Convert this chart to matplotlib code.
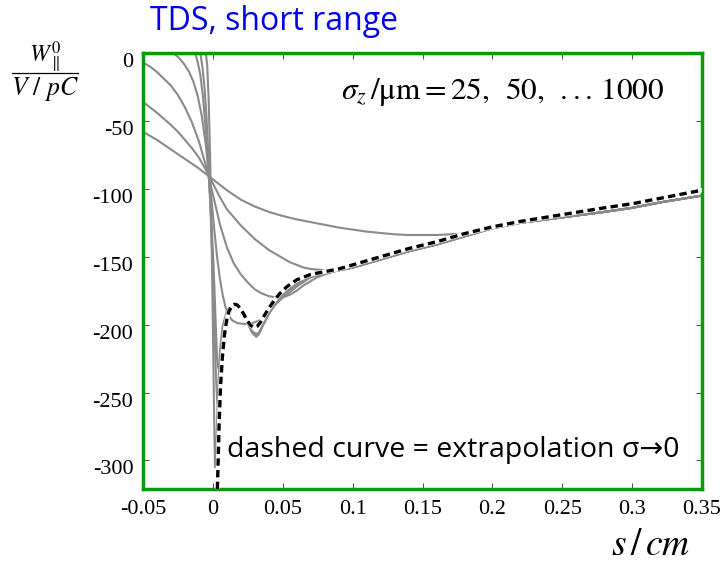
import matplotlib
matplotlib.use('Agg')
import matplotlib.pyplot as plt
import matplotlib.transforms as mtransforms
from matplotlib.lines import Line2D

plt.rcParams['mathtext.fontset'] = 'stix'

# ---- data (s in cm, W in V/pC) ----
# common gray bundle the curves join at larger s
mid_x = [0.07, 0.08, 0.09, 0.10, 0.12, 0.14, 0.16, 0.18]
mid_y = [-165, -162, -160, -158, -152, -146, -141, -135]
tail_x = [0.20, 0.22, 0.25, 0.28, 0.30, 0.32, 0.35]
tail_y = [-129, -125, -121, -117, -114, -110, -105]

# sigma = 1000 um
a_x = [-0.05, -0.04, -0.03, -0.02, -0.01, 0.0, 0.01, 0.02, 0.03, 0.04, 0.05, 0.06, 0.07,
       0.08, 0.09, 0.10, 0.11, 0.12, 0.13, 0.14, 0.15, 0.16, 0.17, 0.18, 0.19]
a_y = [-58, -64, -71, -78, -85, -93, -101, -108, -113, -117, -120, -122.5, -124.5,
       -126.5, -128.5, -130, -131.5, -132.5, -133.5, -134, -134, -134, -133.5, -133, -131]
# sigma = 500 um
b_x = [-0.05, -0.045, -0.04, -0.035, -0.03, -0.025, -0.02, -0.015, -0.01, -0.005, 0.0,
       0.005, 0.01, 0.015, 0.02, 0.025, 0.03, 0.035, 0.04, 0.045, 0.05, 0.055, 0.06,
       0.065, 0.07, 0.08, 0.09, 0.10]
b_y = [-36, -40, -44, -48.5, -53, -58, -64, -70, -77, -86, -96,
       -106, -115, -121, -127, -132, -137, -141, -145, -148, -151, -154, -156,
       -158, -159, -160, -160, -158]
# sigma = 300 um
c_x = [-0.05, -0.045, -0.04, -0.035, -0.03, -0.025, -0.02, -0.015, -0.01, -0.005, 0.0,
       0.005, 0.01, 0.015, 0.02, 0.025, 0.03, 0.035, 0.04, 0.045, 0.05, 0.055, 0.06,
       0.065, 0.07, 0.075, 0.08, 0.09]
c_y = [-7, -10, -14, -19, -24, -31, -40, -51, -65, -83, -104,
       -126, -143, -155, -163, -169, -174, -177, -179, -180, -180, -178, -175,
       -171, -168, -165, -163, -160]
# sigma = 200 um
d_x = [-0.0285, -0.026, -0.023, -0.02, -0.017, -0.014, -0.011, -0.008, -0.005, -0.003,
       -0.001, 0.001, 0.003, 0.005, 0.007, 0.009, 0.011, 0.014, 0.018, 0.023, 0.028,
       0.033, 0.037, 0.041, 0.045, 0.05, 0.055, 0.06]
d_y = [0, -2, -5, -9, -14, -21, -31, -46, -68, -88,
       -108, -130, -150, -166, -178, -187, -193, -197, -199, -199.5, -199,
       -197, -194, -190, -185, -180, -176, -172]
# sigma = 100 um
e_x = [-0.0127, -0.011, -0.009, -0.007, -0.005, -0.003, -0.0015, 0.0, 0.001, 0.002, 0.003,
       0.0038, 0.005, 0.0065, 0.008, 0.01, 0.012, 0.014, 0.016, 0.018, 0.02, 0.022,
       0.025, 0.028, 0.031, 0.033, 0.036, 0.04, 0.045, 0.05, 0.055, 0.06]
e_y = [0, -6, -16, -33, -58, -90, -118, -145, -170, -198, -225,
       -232, -228, -216, -205, -196, -190, -187, -186, -186.5, -189, -193,
       -199, -205, -207, -206, -200, -192, -184, -178, -174, -170]
# sigma = 50 um
f_x = [-0.009, -0.0075, -0.006, -0.0045, -0.003, -0.0015, 0.0, 0.001, 0.002, 0.003, 0.004,
       0.005, 0.006, 0.0075, 0.009, 0.011, 0.013, 0.015, 0.017, 0.019, 0.021, 0.023,
       0.025, 0.028, 0.031, 0.033, 0.036, 0.04, 0.045, 0.05, 0.055, 0.06]
f_y = [0, -10, -25, -48, -80, -120, -165, -200, -232, -255, -262,
       -252, -238, -220, -206, -195, -189, -186, -185.5, -187, -190, -194,
       -199, -205, -207, -206, -200, -192, -184, -178, -174, -170]
# sigma = 25 um
g_x = [-0.005, -0.004, -0.003, -0.002, -0.001, 0.0, 0.0008, 0.0015, 0.0025, 0.0035, 0.005,
       0.007, 0.01, 0.012, 0.014, 0.016, 0.018, 0.02, 0.022, 0.025, 0.028, 0.031,
       0.033, 0.036, 0.04, 0.045, 0.05, 0.055, 0.06]
g_y = [0, -10, -35, -75, -130, -200, -260, -305, -290, -255, -220,
       -201, -190, -187, -185.5, -185, -186, -189, -193, -199, -206, -209,
       -207, -200, -192, -184, -178, -174, -170]

# extrapolation sigma -> 0
dash_x = [0.0032, 0.0038, 0.0045, 0.0055, 0.0068, 0.0082, 0.0098, 0.0115, 0.0135, 0.0155,
          0.0175, 0.0195, 0.022, 0.0245, 0.027, 0.0295, 0.032, 0.0345, 0.037, 0.04, 0.044,
          0.048, 0.053, 0.06, 0.07, 0.08, 0.09, 0.10, 0.12, 0.14, 0.16, 0.18, 0.20,
          0.22, 0.25, 0.28, 0.30, 0.32, 0.35]
dash_y = [-321, -300, -272, -245, -224, -208, -197, -190, -186.5, -185,
          -185.5, -188, -192, -197, -200.5, -202, -201, -197.5, -193, -188, -182,
          -177, -172, -167, -163, -161, -159, -156, -150, -144, -139, -133, -128,
          -124, -119, -114, -111, -107, -101]

x_ticks = [-0.05, 0, 0.05, 0.1, 0.15, 0.2, 0.25, 0.3, 0.35]
x_labels = ['-0.05', '0', '0.05', '0.1', '0.15', '0.2', '0.25', '0.3', '0.35']
y_ticks = [0, -50, -100, -150, -200, -250, -300]
y_labels = ['0', '-50', '-100', '-150', '-200', '-250', '-300']

W, H = 723, 565
fig = plt.figure(figsize=(W / 100, H / 100), dpi=100)
ax = fig.add_axes([143 / W, 1 - 489 / H, (702 - 143) / W, (489 - 53) / H])

gray = '#8a8a8a'
curves = [
    (a_x + tail_x, a_y + tail_y),
    (b_x + mid_x[4:] + tail_x, b_y + mid_y[4:] + tail_y),
    (c_x + mid_x[3:] + tail_x, c_y + mid_y[3:] + tail_y),
    (d_x + mid_x + tail_x, d_y + mid_y + tail_y),
    (e_x + mid_x + tail_x, e_y + mid_y + tail_y),
    (f_x + mid_x + tail_x, f_y + mid_y + tail_y),
    (g_x + mid_x + tail_x, g_y + mid_y + tail_y),
]
for cx, cy in curves:
    ax.plot(cx, cy, color=gray, lw=1.5, solid_joinstyle='round', zorder=2)

ax.plot(dash_x, dash_y, color='white', lw=3.2, zorder=3)
ax.plot(dash_x, dash_y, color='black', lw=2.4, dashes=(2.2, 1.3), zorder=4)

ax.set_xlim(-0.05, 0.35)
ax.set_ylim(-321, 0)
ax.set_xticks(x_ticks)
ax.set_xticklabels(x_labels)
ax.set_yticks(y_ticks)
ax.set_yticklabels(y_labels)

for sp in ax.spines.values():
    sp.set_color('#0a9a0a')
    sp.set_linewidth(2.5)

ax.tick_params(direction='in', top=True, right=True, length=4, width=0.8,
               color='#555555', labelsize=16, pad=7)
ax.tick_params(axis='x', pad=8)
for lab in ax.get_xticklabels() + ax.get_yticklabels():
    lab.set_fontfamily('Liberation Serif')
offset = mtransforms.ScaledTranslation(0, -7 / 100, fig.dpi_scale_trans)
for lab in ax.get_yticklabels():
    lab.set_transform(lab.get_transform() + offset)

# texts
fig.text(150 / W, 1 - 21 / H, 'TDS, short range', color='#0000ee', fontsize=23,
         family=['Open Sans', 'DejaVu Sans'], ha='left', va='center')

fig.text(341 / W, 1 - 92 / H, r'$\sigma_z\,/\mathrm{\mu m} = 25,\ \,50,\ \,...\,1000$',
         fontsize=22.5, ha='left', va='center')

fig.text(227 / W, 1 - 450 / H, 'dashed curve = extrapolation σ→0', fontsize=20.5,
         family=['Open Sans', 'DejaVu Sans'], ha='left', va='center')

# y label as a stacked fraction
fig.text(45 / W, 1 - 57 / H, r'$W_{\parallel}^{0}$', fontsize=17, ha='center', va='center')
fig.add_artist(Line2D([12 / W, 78 / W], [1 - 73 / H, 1 - 73 / H], color='black', lw=0.9))
fig.text(45 / W, 1 - 89 / H, r'$V\ /\ pC$', fontsize=18.5, ha='center', va='center')

fig.text(651 / W, 1 - 555 / H, r'$s\,/\,cm$', fontsize=27, ha='center', va='baseline')

fig.savefig('out.png', dpi=100)
